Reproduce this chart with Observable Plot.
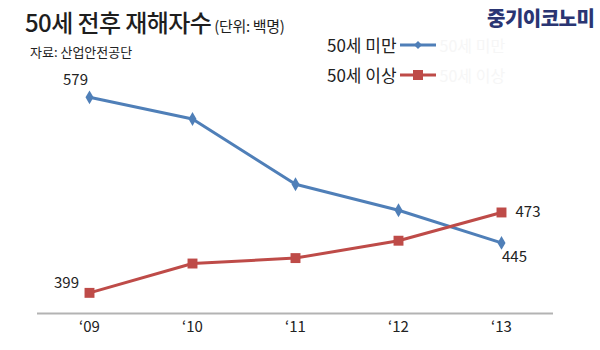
<!DOCTYPE html>
<html><head><meta charset="utf-8">
<script src="https://cdn.jsdelivr.net/npm/d3@7"></script>
<script src="https://cdn.jsdelivr.net/npm/@observablehq/plot@0.6"></script>
<style>
body{margin:0;background:#fff;font-family:"Noto Sans CJK KR","Noto Sans",sans-serif;color:#222}
#wrap{position:relative;width:600px;height:350px;overflow:hidden;background:#fff}
#chart{position:absolute;left:0;top:0}
.abs{position:absolute;white-space:nowrap;line-height:1}
#title{left:25px;top:10px;font-size:24px;font-weight:500;color:#1e1e1e;letter-spacing:-0.6px}
#title span{font-size:15px;font-weight:400;letter-spacing:-0.3px;margin-left:3px}
#sub{left:30px;top:45px;font-size:13px;color:#222}
#logo{left:487px;top:8px;font-size:20px;font-weight:900;color:#2a3573;letter-spacing:-0.5px}
.leg{left:327px;font-size:17px;color:#222;display:flex;align-items:center}
.leg svg{margin-left:3px}
.ghost{color:#f6f6f6;margin-left:4px;font-size:16px}
</style></head>
<body><div id="wrap"><div id="chart"></div></div>
<script>
const years = ["‘09","‘10","‘11","‘12","‘13"];
const seriesNames = ["50세 미만","50세 이상"];
const under50 = [579,559,499,475,445];
const over50 = [399,426,431,447,473];
const seriesColors = ["#4f7fb8","#be4b48"];
const titleText = "50세 전후 재해자수";
const unitText = "(단위: 백명)";
const sourceText = "자료: 산업안전공단";
const logoText = "중기이코노미";

const data = [];
years.forEach((y,i)=>{
  data.push({year:y, series:seriesNames[0], value:under50[i], i});
  data.push({year:y, series:seriesNames[1], value:over50[i], i});
});
const last = years.length-1;

const plot = Plot.plot({
  width:600, height:350,
  marginLeft:37, marginRight:47, marginTop:74, marginBottom:37,
  style:{fontFamily:'"Noto Sans CJK KR","Noto Sans",sans-serif', fontSize:"15px", color:"#222", background:"transparent"},
  x:{type:"point", domain:years, padding:0.5, tickSize:0, tickPadding:8, label:null, fontSize:15},
  y:{domain:[380,600], axis:null},
  color:{domain:seriesNames, range:seriesColors},
  marks:[
    Plot.ruleY([380],{stroke:"#b3b3b3", strokeWidth:2}),
    Plot.line(data,{x:"year", y:"value", z:"series", stroke:"series", strokeWidth:3}),
    Plot.dot(data.filter(d=>d.series===seriesNames[0]),{x:"year", y:"value", symbol:"diamond", r:4.2, fill:"series", stroke:null}),
    Plot.dot(data.filter(d=>d.series===seriesNames[1]),{x:"year", y:"value", symbol:"square", r:5.6, fill:"series", stroke:null}),
    Plot.text(data.filter(d=>d.series===seriesNames[0] && d.i===0),{x:"year", y:"value", text:d=>String(d.value), dx:-14, dy:-17, fontSize:15, fill:"#222"}),
    Plot.text(data.filter(d=>d.series===seriesNames[1] && d.i===0),{x:"year", y:"value", text:d=>String(d.value), dx:-23, dy:-10, fontSize:15, fill:"#222"}),
    Plot.text(data.filter(d=>d.series===seriesNames[1] && d.i===last),{x:"year", y:"value", text:d=>String(d.value), dx:14, dy:0, textAnchor:"start", fontSize:15, fill:"#222"}),
    Plot.text(data.filter(d=>d.series===seriesNames[0] && d.i===last),{x:"year", y:"value", text:d=>String(d.value), dx:13, dy:14, fontSize:15, fill:"#222"})
  ]
});
document.getElementById("chart").appendChild(plot);

const wrap = document.getElementById("wrap");
function add(id, cls, html){const d=document.createElement("div");if(id)d.id=id;d.className="abs "+(cls||"");d.innerHTML=html;wrap.appendChild(d);return d;}
add("title","",titleText+"<span>"+unitText+"</span>");
add("sub","",sourceText);
add("logo","",logoText);
const markerSvg = [
  `<svg width="36" height="12"><line x1="0" y1="6" x2="36" y2="6" stroke="${seriesColors[0]}" stroke-width="3"/><path d="M18 2 L22 6 L18 10 L14 6Z" fill="${seriesColors[0]}"/></svg>`,
  `<svg width="36" height="12"><line x1="0" y1="6" x2="36" y2="6" stroke="${seriesColors[1]}" stroke-width="3"/><rect x="13" y="1" width="10" height="10" fill="${seriesColors[1]}"/></svg>`
];
seriesNames.forEach((s,i)=>{
  const d = add(null,"leg",`<span>${s}</span>${markerSvg[i]}<span class="ghost">${s}</span>`);
  d.style.top = (36 + i*30) + "px";
});
</script></body></html>
